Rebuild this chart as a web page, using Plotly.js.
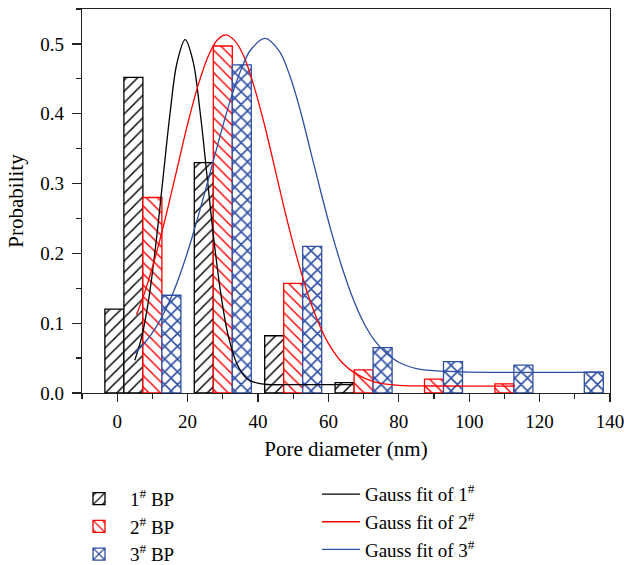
<!DOCTYPE html>
<html>
<head>
<meta charset="utf-8">
<script src="https://cdn.plot.ly/plotly-3.0.1.min.js"></script>
<style>html,body{margin:0;padding:0;background:#fff;}#chart{width:624px;height:565px;}</style>
</head>
<body>
<div id="chart"></div>
<script>
// Histogram bars (pore diameter in nm, probability)
const bp1X = [-0.8, 4.6, 24.6, 44.6, 64.6];
const bp1Y = [0.120, 0.452, 0.330, 0.082, 0.015];
const bp2X = [10, 30, 50, 70, 90, 110];
const bp2Y = [0.280, 0.497, 0.157, 0.033, 0.020, 0.013];
const bp3X = [15.4, 35.4, 55.4, 75.4, 95.4, 115.4, 135.4];
const bp3Y = [0.140, 0.470, 0.210, 0.065, 0.045, 0.040, 0.030];

// Gauss fit curves
const fit1X = [5, 7, 9, 11, 13, 15, 17, 19.3, 21.5, 23.5, 25.5, 27.5, 29.5, 31.5, 34, 37, 41, 50, 67];
const fit1Y = [0.047, 0.081, 0.136, 0.214, 0.307, 0.400, 0.473, 0.506, 0.476, 0.405, 0.312, 0.218, 0.140, 0.083, 0.042, 0.020, 0.013, 0.012, 0.012];
const fit2X = [5.5, 8, 11, 14, 17, 20, 23, 26, 28.5, 30.9, 33.5, 36, 39, 42, 45, 48, 51, 54, 57, 60, 64, 68, 73, 80, 90, 113];
const fit2Y = [0.112, 0.147, 0.198, 0.257, 0.321, 0.385, 0.441, 0.484, 0.506, 0.513, 0.504, 0.482, 0.437, 0.381, 0.317, 0.253, 0.195, 0.144, 0.103, 0.071, 0.043, 0.027, 0.016, 0.011, 0.010, 0.010];
const fit3X = [5, 8, 11, 14, 17, 20, 23, 26, 29, 32, 35, 38, 42, 46, 49, 52, 55, 58, 61, 64, 67, 70, 73, 76, 80, 85, 90, 100, 138];
const fit3Y = [0.057, 0.073, 0.094, 0.122, 0.158, 0.202, 0.253, 0.308, 0.364, 0.417, 0.461, 0.492, 0.508, 0.490, 0.455, 0.405, 0.345, 0.285, 0.228, 0.178, 0.135, 0.101, 0.076, 0.059, 0.044, 0.035, 0.032, 0.030, 0.030];

const xTickVals = [0, 20, 40, 60, 80, 100, 120, 140];
const yTickVals = [0.0, 0.1, 0.2, 0.3, 0.4, 0.5];

const BLACK = '#000000', RED = '#ff0000', BLUE = '#2f4fa5';
const FONT = 'Liberation Serif, Times New Roman, serif';

function barTrace(x, y, name, color, shape, size, solidity) {
  return {
    type: 'bar', x: x, y: y, name: name, width: 5.4,
    marker: {
      color: '#ffffff',
      line: {color: color, width: 1.3},
      pattern: {shape: shape, fgcolor: color, bgcolor: '#ffffff', size: size, solidity: solidity, fillmode: 'replace'}
    },
    legend: 'legend', hoverinfo: 'x+y'
  };
}
function lineTrace(x, y, name, color) {
  return {
    type: 'scatter', mode: 'lines', x: x, y: y, name: name,
    line: {color: color, width: 1.3, shape: 'spline', smoothing: 1},
    legend: 'legend2'
  };
}

const data = [
  barTrace(bp1X, bp1Y, '1<sup>#</sup> BP', BLACK, '/', 8, 0.18),
  barTrace(bp2X, bp2Y, '2<sup>#</sup> BP', RED, '\\', 8, 0.18),
  barTrace(bp3X, bp3Y, '3<sup>#</sup> BP', BLUE, 'x', 9, 0.32),
  lineTrace(fit1X, fit1Y, 'Gauss fit of 1<sup>#</sup>', BLACK),
  lineTrace(fit2X, fit2Y, 'Gauss fit of 2<sup>#</sup>', RED),
  lineTrace(fit3X, fit3Y, 'Gauss fit of 3<sup>#</sup>', BLUE)
];

const layout = {
  width: 624, height: 565,
  margin: {l: 82, r: 14, t: 9, b: 172, autoexpand: false},
  paper_bgcolor: '#ffffff', plot_bgcolor: '#ffffff',
  barmode: 'overlay',
  font: {family: FONT, size: 19, color: '#000'},
  xaxis: {
    range: [-10, 140], tickvals: xTickVals, ticktext: xTickVals.map(String),
    ticks: 'outside', ticklen: 8, tickwidth: 1.3, tickcolor: '#222',
    minor: {dtick: 10, tick0: 0, ticks: 'outside', ticklen: 5, tickwidth: 1.3, tickcolor: '#222'},
    showline: true, linecolor: '#222', linewidth: 1.3, mirror: true,
    showgrid: false, zeroline: false, ticklabeloverflow: 'allow', ticklabelstandoff: 3,
    tickfont: {family: FONT, size: 19},
    title: {text: 'Pore diameter (nm)', font: {family: FONT, size: 21}, standoff: 10}
  },
  yaxis: {
    range: [0, 0.55], tickvals: yTickVals, ticktext: yTickVals.map(v => v.toFixed(1)),
    ticks: 'outside', ticklen: 9, tickwidth: 1.3, tickcolor: '#222',
    minor: {dtick: 0.05, tick0: 0, ticks: 'outside', ticklen: 5, tickwidth: 1.3, tickcolor: '#222'},
    showline: true, linecolor: '#222', linewidth: 1.3, mirror: true,
    showgrid: false, zeroline: false, ticklabelstandoff: 4,
    tickfont: {family: FONT, size: 19},
    title: {text: 'Probability', font: {family: FONT, size: 21}, standoff: 10}
  },
  legend: {
    x: -0.0265, y: -0.226, xanchor: 'left', yanchor: 'top',
    orientation: 'v', bgcolor: 'rgba(0,0,0,0)', borderwidth: 0,
    font: {family: FONT, size: 19, color: '#000'}, itemwidth: 52,
    traceorder: 'normal'
  },
  legend2: {
    x: 0.445, y: -0.214, xanchor: 'left', yanchor: 'top',
    orientation: 'v', bgcolor: 'rgba(0,0,0,0)', borderwidth: 0,
    font: {family: FONT, size: 19, color: '#000'}, itemwidth: 38,
    traceorder: 'normal'
  },
  showlegend: true
};

Plotly.newPlot('chart', data, layout, {displayModeBar: false, staticPlot: true});
</script>
</body>
</html>
